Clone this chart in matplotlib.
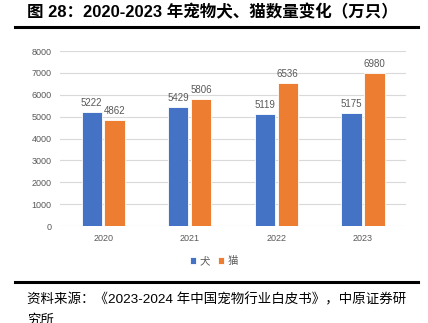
import matplotlib
matplotlib.use('Agg')
import numpy as np
from matplotlib import pyplot as plt
from matplotlib.lines import Line2D

plt.rcParams['font.family'] = ['Noto Sans CJK SC', 'DejaVu Sans']
mixed = ['Liberation Sans', 'Noto Sans CJK SC', 'DejaVu Sans']

years = ['2020', '2021', '2022', '2023']
dogs = [5222, 5429, 5119, 5175]
cats = [4862, 5806, 6536, 6980]
series_names = ['犬', '猫']
yticks = [0, 1000, 2000, 3000, 4000, 5000, 6000, 7000, 8000]

blue = '#4472C4'
orange = '#ED7D31'
grey = '#595959'

fig = plt.figure(figsize=(4.28, 3.23), dpi=100)
ax = fig.add_axes([0.140, 0.300, 0.809, 0.542])

x = np.arange(len(years))
w = 0.235
gap = 0.03
b1 = ax.bar(x - w / 2 - gap / 2, dogs, w, color=blue, edgecolor='white', linewidth=0.6, label=series_names[0], zorder=3)
b2 = ax.bar(x + w / 2 + gap / 2, cats, w, color=orange, edgecolor='white', linewidth=0.6, label=series_names[1], zorder=3)

for bars in (b1, b2):
    for rect in bars:
        h = rect.get_height()
        ax.annotate('{}'.format(h), xy=(rect.get_x() + rect.get_width() / 2, h),
                    xytext=(0, 3), textcoords='offset points',
                    ha='center', va='bottom', fontsize=7, color=grey,
                    family=['Liberation Sans', 'DejaVu Sans'])

ax.set_xlim(-0.5, 3.5)
ax.set_ylim(0, 8000)
ax.set_yticks(yticks)
ax.set_xticks(x)
ax.set_xticklabels(years)
ax.yaxis.grid(True, color='#D9D9D9', linewidth=0.8, zorder=0)
for s in ax.spines.values():
    s.set_visible(False)
ax.tick_params(length=0, labelsize=6.5, labelcolor=grey, pad=6)
for lbl in ax.get_xticklabels() + ax.get_yticklabels():
    lbl.set_family(['Liberation Sans', 'DejaVu Sans'])

ax.legend(loc='center', bbox_to_anchor=(0.5, 1 - 261 / 323), bbox_transform=fig.transFigure,
          ncol=2, frameon=False, fontsize=7.5, handlelength=0.6, handleheight=0.6,
          handletextpad=0.3, columnspacing=0.8, labelcolor=grey)

fig.text(27 / 428, 1 - 12 / 323, '图 28：2020-2023 年宠物犬、猫数量变化（万只）',
         fontsize=11.9, fontweight='bold', va='center', ha='left', family=mixed)
fig.add_artist(Line2D([15 / 428, 418 / 428], [1 - 27 / 323] * 2, color='black', linewidth=2.2))
fig.add_artist(Line2D([15 / 428, 418 / 428], [1 - 282 / 323] * 2, color='black', linewidth=2.2))
fig.text(27 / 428, 1 - 300 / 323, '资料来源：《2023-2024 年中国宠物行业白皮书》，中原证券研',
         fontsize=9.7, va='center', ha='left', family=mixed)
fig.text(27 / 428, 1 - 320 / 323, '究所', fontsize=9.7, va='center', ha='left', family=mixed)

fig.savefig('out.png', dpi=100)
